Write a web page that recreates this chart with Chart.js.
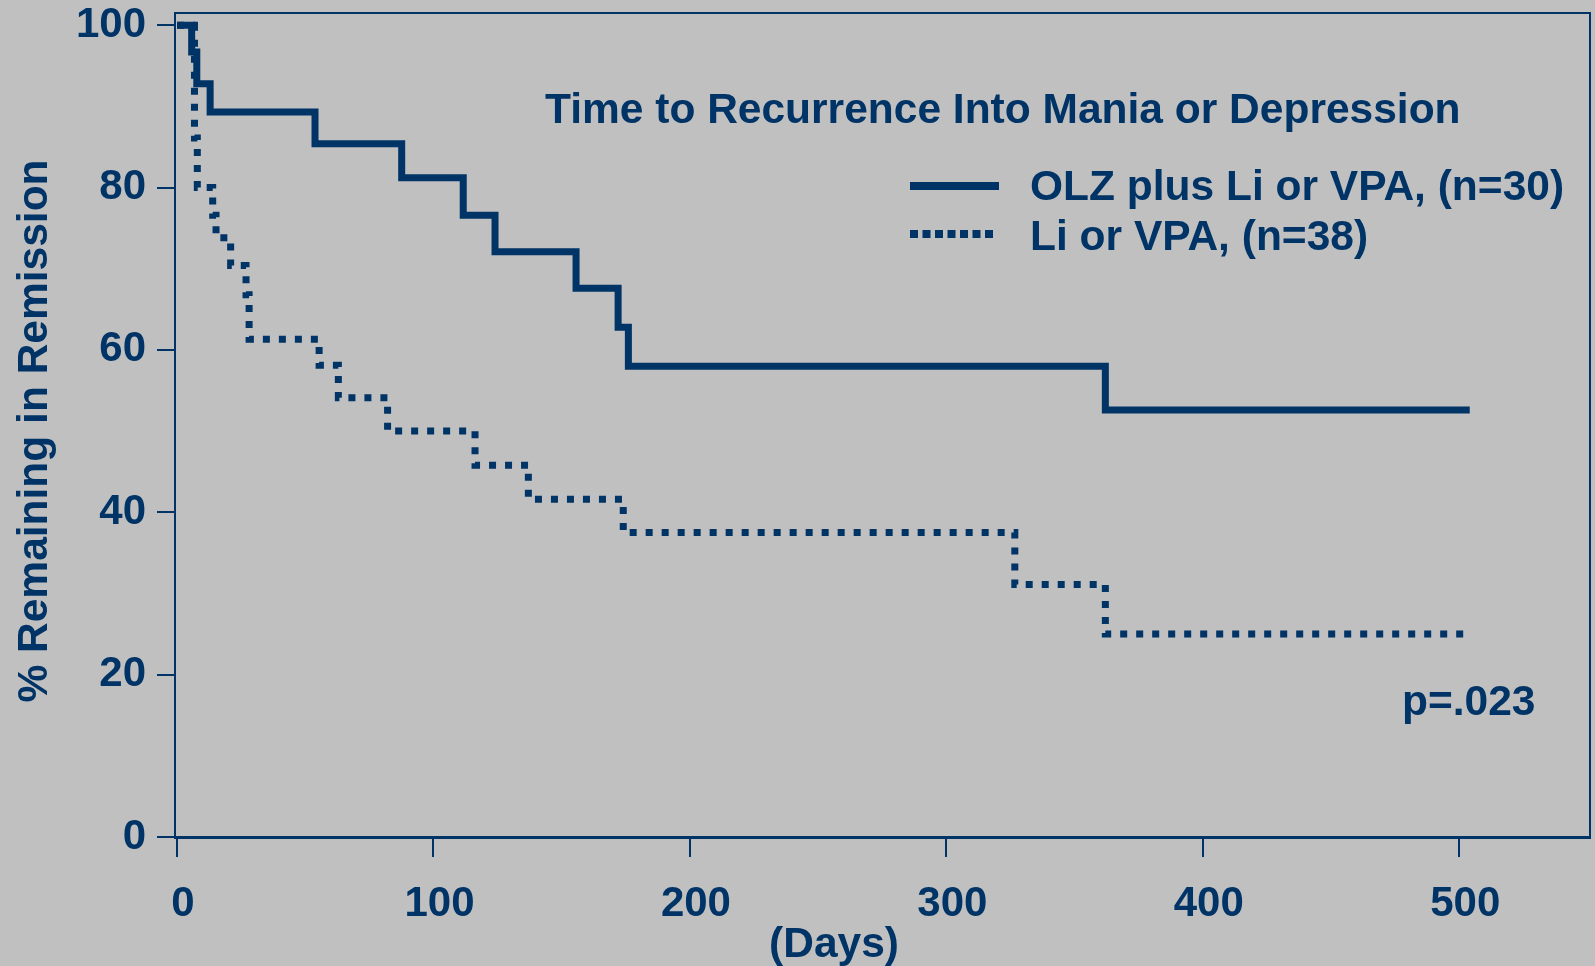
<!DOCTYPE html>
<html>
<head>
<meta charset="utf-8">
<script src="https://cdn.jsdelivr.net/npm/chart.js@4.4.1/dist/chart.umd.min.js"></script>
<style>
  html, body { margin: 0; padding: 0; background: #c0c0c0; }
  #wrap { width: 1595px; height: 966px; }
</style>
</head>
<body>
<div id="wrap"><canvas id="km"></canvas></div>
<script>
const NAVY = '#003366';
const FONT = '"Liberation Sans", Arial, sans-serif';

// Kaplan-Meier steps: day of event, % remaining after it
const olzDays = [0, 5.7, 7.7, 12.9, 53.8, 87.6, 111.6, 124.0, 155.6, 172.0, 176.0, 362.0, 504.1];
const olzPct  = [100, 96.7, 92.8, 89.3, 85.4, 81.2, 76.6, 72.1, 67.6, 62.8, 58.0, 52.6, 52.6];
const liDays  = [0, 6.8, 7.9, 13.9, 15.2, 20.9, 26.9, 28.1, 55.4, 62.9, 82.1, 116.2, 137.0, 174.0, 326.7, 362.0, 504.1];
const liPct   = [100, 86.1, 80.0, 76.6, 73.8, 70.4, 66.8, 61.3, 58.1, 54.1, 50.0, 45.8, 41.6, 37.5, 31.1, 25.0, 25.0];

const xTicks = [0, 100, 200, 300, 400, 500];
const yTicks = [0, 20, 40, 60, 80, 100];
const seriesLabels = ['OLZ plus Li or VPA, (n=30)', 'Li or VPA, (n=38)'];
const chartTitle = 'Time to Recurrence Into Mania or Depression';
const xTitle = '(Days)';
const yTitle = '% Remaining in Remission';
const pValue = 'p=.023';

const toPoints = (days, pct) => days.map((d, i) => ({ x: d, y: pct[i] }));

// texts and legend drawn over the plot
const overlay = {
  id: 'overlay',
  afterDraw(chart) {
    const { ctx, chartArea: a } = chart;
    ctx.save();
    ctx.strokeStyle = NAVY;
    ctx.lineWidth = 2;
    ctx.beginPath();
    ctx.moveTo(a.left, a.top);
    ctx.lineTo(a.right, a.top);
    ctx.lineTo(a.right, a.bottom);
    ctx.stroke();

    ctx.fillStyle = NAVY;
    ctx.font = `bold 42.5px ${FONT}`;
    ctx.textBaseline = 'alphabetic';
    ctx.textAlign = 'left';
    ctx.fillText(chartTitle, 545, 123);

    const rows = [186, 234];
    chart.data.datasets.forEach((ds, i) => {
      const y = rows[i];
      ctx.beginPath();
      ctx.lineWidth = 8;
      ctx.setLineDash(i ? [8, 4.5] : []);
      ctx.moveTo(910, y);
      ctx.lineTo(i ? 995 : 999, y);
      ctx.stroke();
      ctx.setLineDash([]);
      ctx.fillText(ds.label, 1030, i ? 250 : 200);
    });

    ctx.fillText(pValue, 1402, 715);

    ctx.textAlign = 'center';
    ctx.fillText(xTitle, 834, 957);

    ctx.translate(47, 431);
    ctx.rotate(-Math.PI / 2);
    ctx.fillText(yTitle, 0, 0);
    ctx.restore();
  }
};

new Chart(document.getElementById('km'), {
  type: 'line',
  data: {
    datasets: [
      {
        label: seriesLabels[0],
        data: toPoints(olzDays, olzPct),
        borderColor: NAVY,
        borderWidth: 7,
        stepped: true,
        pointRadius: 0,
        fill: false
      },
      {
        label: seriesLabels[1],
        data: toPoints(liDays, liPct),
        borderColor: NAVY,
        borderWidth: 7,
        borderDash: [7, 9],
        stepped: true,
        pointRadius: 0,
        fill: false
      }
    ]
  },
  options: {
    responsive: true,
    maintainAspectRatio: false,
    animation: false,
    layout: { padding: { top: 13, right: 5, left: 0, bottom: 0 } },
    plugins: {
      legend: { display: false },
      tooltip: { enabled: false }
    },
    scales: {
      x: {
        type: 'linear',
        min: -0.8,
        max: 551,
        afterBuildTicks: s => { s.ticks = xTicks.map(v => ({ value: v })); },
        afterFit: s => { s.height = 129; s.paddingLeft = 0; s.paddingRight = 0; },
        grid: { drawOnChartArea: false, color: NAVY, lineWidth: 2, tickLength: 20 },
        border: { color: NAVY, width: 3 },
        ticks: {
          color: NAVY,
          padding: 22,
          labelOffset: 6,
          maxRotation: 0,
          font: { family: FONT, size: 42, weight: 'bold' }
        }
      },
      y: {
        min: 0,
        max: 101.5,
        afterBuildTicks: s => { s.ticks = yTicks.map(v => ({ value: v })); },
        afterFit: s => { s.width = 175; s.paddingTop = 0; s.paddingBottom = 0; },
        grid: { drawOnChartArea: false, color: NAVY, lineWidth: 2, tickLength: 18 },
        border: { color: NAVY, width: 2 },
        ticks: {
          color: NAVY,
          padding: 11,
          font: { family: FONT, size: 42, weight: 'bold' }
        }
      }
    }
  },
  plugins: [overlay]
});
</script>
</body>
</html>
